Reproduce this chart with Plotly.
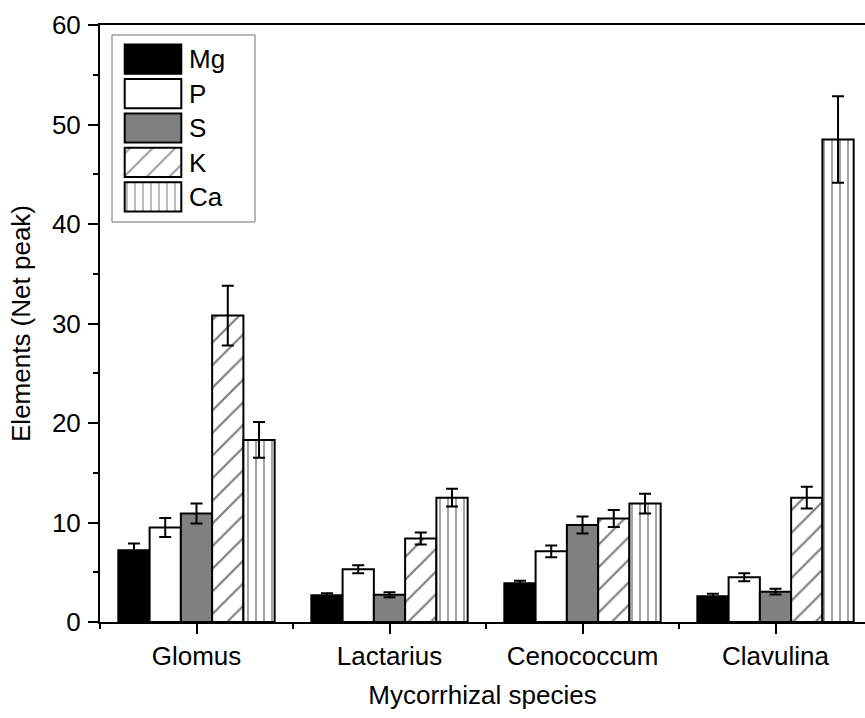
import plotly.graph_objects as go

categories = ["Glomus", "Lactarius", "Cenococcum", "Clavulina"]
elements = ["Mg", "P", "S", "K", "Ca"]

Mg = [7.2, 2.7, 3.9, 2.6]
Mg_err = [0.7, 0.2, 0.25, 0.25]
P = [9.5, 5.3, 7.1, 4.5]
P_err = [0.95, 0.4, 0.6, 0.4]
S = [10.9, 2.75, 9.75, 3.05]
S_err = [1.0, 0.25, 0.85, 0.28]
K = [30.8, 8.4, 10.4, 12.5]
K_err = [3.0, 0.6, 0.85, 1.1]
Ca = [18.3, 12.5, 11.9, 48.5]
Ca_err = [1.8, 0.9, 1.0, 4.35]

y_ticks = [0, 10, 20, 30, 40, 50, 60]

values = [Mg, P, S, K, Ca]
errors = [Mg_err, P_err, S_err, K_err, Ca_err]
fills = ["black", "white", "#808080", "white", "white"]
patterns = ["", "", "", "/", "|"]
psizes = [8, 8, 8, 16, 8]
psol = [0.2, 0.2, 0.2, 0.14, 0.18]

FONT = "Liberation Sans, Arial, sans-serif"
FS = 26

x = list(range(len(categories)))

fig = go.Figure()
for name, v, e, c, pat, ps, so in zip(elements, values, errors, fills, patterns, psizes, psol):
    fig.add_trace(go.Bar(
        x=x, y=v, name=name,
        marker=dict(color=c, line=dict(color="black", width=2),
                    pattern=dict(shape=pat, fgcolor="black", bgcolor=c, size=ps, solidity=so)),
        error_y=dict(type="data", array=e, visible=True, color="black", thickness=2, width=6),
        showlegend=False,
    ))

# custom legend drawn as a small bar subplot
fig.add_trace(go.Bar(
    x=[1] * len(elements), y=elements, orientation="h",
    xaxis="x2", yaxis="y2", width=0.85,
    marker=dict(color=fills, line=dict(color="black", width=2),
                pattern=dict(shape=patterns, fgcolor="black", bgcolor=fills, size=psizes, solidity=psol)),
    showlegend=False, hoverinfo="skip",
))

W, H = 865, 718
L, R, T, B = 100, 0, 25, 96
pw, ph = W - L - R, H - T - B

def px(xp):
    return (xp - L) / pw

def py(yp):
    return (H - B - yp) / ph

fig.add_shape(type="rect", xref="paper", yref="paper",
              x0=px(112), x1=px(255), y0=py(222), y1=py(35),
              line=dict(color="#707070", width=1), fillcolor="white", layer="below")

fig.update_layout(
    width=W, height=H,
    margin=dict(l=L, r=R, t=T, b=B, pad=0),
    paper_bgcolor="white", plot_bgcolor="white",
    barmode="group", bargap=0.19, bargroupgap=0,
    font=dict(family=FONT, size=FS, color="black"),
    xaxis=dict(
        range=[-0.5, -0.5 + pw / 193.0],
        tickmode="array", tickvals=x, ticktext=categories,
        ticks="outside", ticklen=10, tickwidth=2, tickcolor="black",
        minor=dict(tickmode="linear", tick0=0.5, dtick=1, ticks="outside", ticklen=5, tickwidth=2, tickcolor="black"),
        showline=True, linecolor="black", linewidth=2, mirror=True,
        showgrid=False, zeroline=False,
        tickfont=dict(size=FS), ticklabelstandoff=0,
        title=dict(text="Mycorrhizal species", font=dict(size=FS), standoff=16),
    ),
    yaxis=dict(
        range=[0, 60], tickmode="array", tickvals=y_ticks,
        ticks="outside", ticklen=10, tickwidth=2, tickcolor="black",
        minor=dict(tickmode="linear", tick0=0, dtick=5, ticks="outside", ticklen=5, tickwidth=2, tickcolor="black"),
        showline=True, linecolor="black", linewidth=2,
        showgrid=False, zeroline=False,
        tickfont=dict(size=FS), ticklabelstandoff=2,
        title=dict(text="Elements (Net peak)", font=dict(size=FS), standoff=14),
    ),
    xaxis2=dict(domain=[px(123), px(183)], anchor="y2", range=[-0.03, 1.03],
                visible=False, fixedrange=True),
    yaxis2=dict(domain=[py(214), py(42)], anchor="x2", type="category",
                categoryorder="array", categoryarray=elements, autorange="reversed",
                side="right", showline=False, showgrid=False, zeroline=False, ticks="",
                tickfont=dict(size=FS), ticklabelstandoff=5, fixedrange=True),
)

fig.write_html("out.html")
